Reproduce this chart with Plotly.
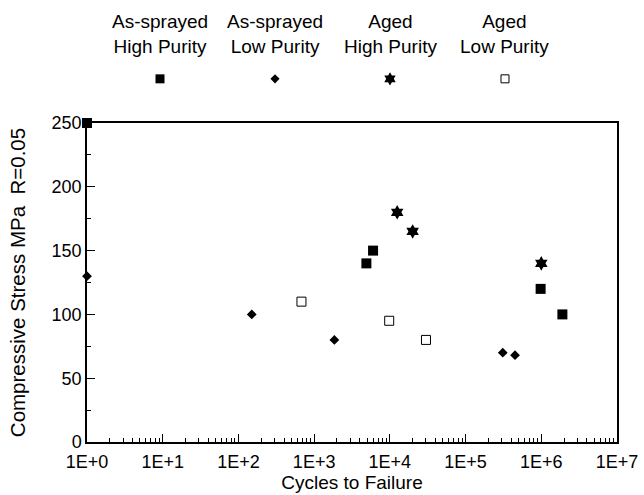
import plotly.graph_objects as go

# ---------------- data ----------------
series_labels = ["As-sprayed<br>High Purity", "As-sprayed<br>Low Purity",
                 "Aged<br>High Purity", "Aged<br>Low Purity"]

as_hp_cycles = [1, 4900, 6000, 980000, 1900000]
as_hp_stress = [250, 140, 150, 120, 100]

as_lp_cycles = [1, 150, 1850, 310000, 450000]
as_lp_stress = [130, 100, 80, 70, 68]

aged_hp_cycles = [12500, 20000, 1000000]
aged_hp_stress = [180, 165, 140]

aged_lp_cycles = [680, 9800, 30000]
aged_lp_stress = [110, 95, 80]

x_tickvals = [1, 10, 100, 1e3, 1e4, 1e5, 1e6, 1e7]
x_ticktext = ["1E+0", "1E+1", "1E+2", "1E+3", "1E+4", "1E+5", "1E+6", "1E+7"]
y_tickvals = [0, 50, 100, 150, 200, 250]
y_ticktext = ["0", "50", "100", "150", "200", "250"]

# ---------------- style ----------------
FONT = "Liberation Sans, Arial, Helvetica, sans-serif"
FS = 19
TFS = 18
symbols = ["square", "diamond", "hexagram", "square-open"]
sizes = [10, 7.5, 11, 9]
legend_sizes = [9, 7, 10, 8]

minor_x = [k * 10 ** n for n in range(7) for k in range(2, 10)]

series = [
    (as_hp_cycles, as_hp_stress),
    (as_lp_cycles, as_lp_stress),
    (aged_hp_cycles, aged_hp_stress),
    (aged_lp_cycles, aged_lp_stress),
]

fig = go.Figure()
for (xs, ys), sym, sz, name in zip(series, symbols, sizes, series_labels):
    fig.add_trace(go.Scatter(
        x=xs, y=ys, mode="markers", name=name, showlegend=False,
        cliponaxis=False,
        marker=dict(symbol=sym, size=sz, color="black", opacity=1,
                    line=dict(color="black", width=1 if "open" in sym else 0)),
        xaxis="x", yaxis="y",
    ))

# legend drawn as a row of markers on an invisible category axis
for lab, sym, sz in zip(series_labels, symbols, legend_sizes):
    fig.add_trace(go.Scatter(
        x=[lab], y=[0], mode="markers",
        showlegend=False, cliponaxis=False,
        marker=dict(symbol=sym, size=sz, color="black", opacity=1,
                    line=dict(color="black", width=1 if "open" in sym else 0)),
        xaxis="x2", yaxis="y2",
    ))

annotations = []
for lab in series_labels:
    annotations.append(dict(
        x=lab, xref="x2", y=0.9408, yref="paper", text=lab, showarrow=False,
        xanchor="center", yanchor="middle",
        font=dict(family=FONT, size=FS, color="black"),
    ))

axis_common = dict(
    showline=True, linecolor="black", linewidth=1.5, mirror=True,
    showgrid=False, zeroline=False, ticks="inside", tickcolor="black",
    tickwidth=1, tickfont=dict(family=FONT, size=TFS, color="black"),
    automargin=False,
)

fig.update_layout(
    width=644, height=495,
    margin=dict(l=87, r=27, t=8, b=53, autoexpand=False),
    paper_bgcolor="white", plot_bgcolor="white",
    font=dict(family=FONT, size=FS, color="black"),
    annotations=annotations,
    xaxis=dict(
        type="log", range=[0, 7], tickmode="array",
        tickvals=x_tickvals, ticktext=x_ticktext, ticklen=8,
        ticklabelstandoff=3,
        minor=dict(tickmode="array", tickvals=minor_x, ticks="inside",
                   ticklen=4, tickcolor="black", tickwidth=1, showgrid=False),
        title=dict(text="Cycles to Failure", standoff=4,
                   font=dict(family=FONT, size=FS)),
        anchor="y",
        **axis_common,
    ),
    yaxis=dict(
        domain=[0, 0.735], range=[0, 250], tickmode="array",
        tickvals=y_tickvals, ticktext=y_ticktext, ticklen=8,
        minor=dict(dtick=25, ticks="inside", ticklen=4, tickcolor="black",
                   tickwidth=1, showgrid=False),
        title=dict(text="Compressive Stress MPa\u00a0\u00a0R=0.05", standoff=20,
                   font=dict(family=FONT, size=20.5)),
        anchor="x",
        **axis_common,
    ),
    xaxis2=dict(domain=[0, 1], anchor="y2", type="category",
                categoryorder="array", categoryarray=series_labels,
                range=[-0.6348, 3.974], visible=False),
    yaxis2=dict(domain=[0.745, 1], anchor="x2", range=[-0.36, 0.64],
                visible=False),
)

fig.write_html("out.html")
